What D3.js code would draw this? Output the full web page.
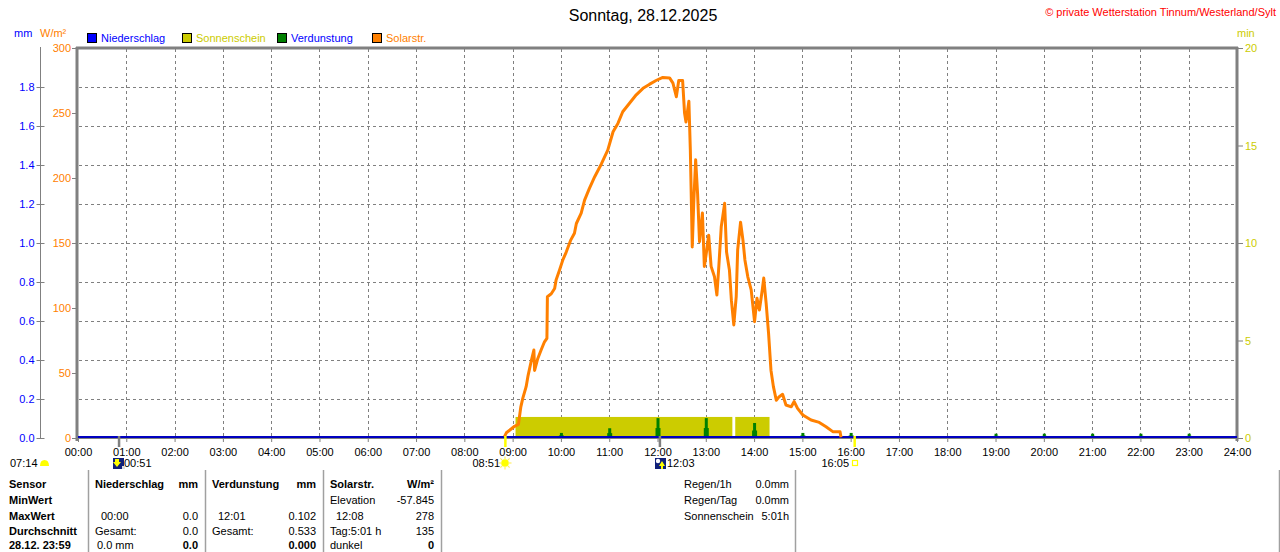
<!DOCTYPE html>
<html><head><meta charset="utf-8">
<script src="https://cdn.jsdelivr.net/npm/d3@7"></script>
<style>
html,body{margin:0;padding:0;background:#fff;overflow:hidden}
svg{display:block;font-family:"Liberation Sans",Arial,sans-serif}
</style></head>
<body>
<svg id="c" width="1280" height="552"></svg>
<script>
// ---------------- DATA ----------------
const title = "Sonntag, 28.12.2025";
const copyright = "\u00A9 private Wetterstation Tinnum/Westerland/Sylt";
const hourTicks = d3.range(0, 25);
const mmTicks = [0, 0.2, 0.4, 0.6, 0.8, 1.0, 1.2, 1.4, 1.6, 1.8];
const wTicks = [0, 50, 100, 150, 200, 250, 300];
const minTicks = [0, 5, 10, 15, 20];
const legendNames = ["Niederschlag", "Sonnenschein", "Verdunstung", "Solarstr."];

// Solarstrahlung (hours, W/m²)
const solarHours = [8.83, 8.87, 9.04, 9.12, 9.17, 9.21, 9.28, 9.32, 9.39, 9.44, 9.455, 9.52, 9.59, 9.66, 9.71,
  9.72, 9.80, 9.87, 9.90, 9.97, 10.04, 10.11, 10.20, 10.28, 10.32, 10.42, 10.49, 10.59, 10.70, 10.84,
  10.97, 11.08, 11.18, 11.28, 11.42, 11.56, 11.70, 11.83, 11.97, 12.11, 12.25, 12.32, 12.39, 12.44, 12.52,
  12.56, 12.59, 12.65, 12.68, 12.72, 12.75, 12.79, 12.83, 12.87, 12.93, 12.97, 13.02, 13.06, 13.11,
  13.18, 13.23, 13.27, 13.32, 13.35, 13.39, 13.43, 13.49, 13.53, 13.58, 13.63, 13.66, 13.72, 13.77,
  13.81, 13.87, 13.94, 14.01, 14.06, 14.11, 14.17, 14.20, 14.25, 14.30, 14.35, 14.40, 14.46, 14.52,
  14.59, 14.66, 14.77, 14.83, 14.90, 15.01, 15.18, 15.35, 15.49, 15.63, 15.78, 15.80];
const solarValues = [1, 4, 9, 10.5, 24, 30.5, 39.5, 48, 60, 67.7, 52, 61, 67.7, 74, 76.7,
  108.7, 111, 115, 121.5, 129, 137, 143, 152, 157.5, 165, 173, 183, 192, 201, 211,
  221.5, 235.6, 242, 251, 257.5, 264, 269, 272, 275, 277.4, 277, 273, 262.5, 275, 275,
  250, 243, 259, 221.5, 147, 180.5, 214, 188, 151, 173, 132, 144.6, 156, 132,
  124, 110, 132, 162.5, 170, 180.5, 143, 129, 106, 87, 108.7, 144.6, 166, 152,
  137, 124, 114, 89.5, 107.5, 98.5, 114, 123, 103.6, 80.5, 52, 39.5, 29, 31.8,
  33.6, 25.4, 24, 28, 22.8, 17.7, 13.8, 12, 8.7, 4.9, 4.9, 0.5];

// Sonnenschein intervals (start hour, end hour, min per min)
const sunStart = [9.06, 13.61];
const sunEnd = [13.55, 14.32];
const sunValue = [1.08, 1.08];

// Verdunstung (hours, mm)
const evapHours = [10, 11, 12, 13, 14, 15, 16, 19, 20, 21, 22, 23];
const evapValues = [0.026, 0.05, 0.102, 0.102, 0.077, 0.026, 0.026, 0.022, 0.022, 0.022, 0.022, 0.022];

// Niederschlag (hours, mm)
const rainHours = [0, 24];
const rainValues = [0, 0];

// astro events
const sunrise = 8.85, sunset = 16.083, moonset = 0.85, moonrise = 12.05;
const astroLabels = ["07:14", "00:51", "08:51", "12:03", "16:05"];

// table
const tableCol1 = ["Sensor", "MinWert", "MaxWert", "Durchschnitt", "28.12. 23:59"];
const rainCol = [["Niederschlag", "mm"], ["", ""], ["00:00", "0.0"], ["Gesamt:", "0.0"], ["0.0 mm", "0.0"]];
const evapCol = [["Verdunstung", "mm"], ["", ""], ["12:01", "0.102"], ["Gesamt:", "0.533"], ["", "0.000"]];
const solarCol = [["Solarstr.", "W/m\u00B2"], ["Elevation", "-57.845"], ["12:08", "278"], ["Tag:5:01 h", "135"], ["dunkel", "0"]];
const summaryCol = [["Regen/1h", "0.0mm"], ["Regen/Tag", "0.0mm"], ["Sonnenschein", "5:01h"]];

// ---------------- COLOURS ----------------
const C = { blue: "#0000ff", olive: "#cccc00", green: "#008000", orange: "#ff8000", gray: "#808080", yellow: "#ffff00", red: "#ff0000", navy: "#10207a" };

// ---------------- SCALES ----------------
const svg = d3.select("#c");
const x = d3.scaleLinear().domain([0, 24]).range([78, 1237]);
const yW = d3.scaleLinear().domain([0, 300]).range([438, 48]);
const yMM = d3.scaleLinear().domain([0, 2]).range([438, 48]);
const yMin = d3.scaleLinear().domain([0, 20]).range([438, 48]);
const FONT = "11px";

// title & copyright
svg.append("text").attr("x", 643).attr("y", 15).attr("dy", "0.35em").attr("text-anchor", "middle")
  .style("font-size", "16px").attr("fill", "#000").text(title);
svg.append("text").attr("x", 1276).attr("y", 12).attr("dy", "0.35em").attr("text-anchor", "end")
  .style("font-size", "11px").attr("fill", C.red).text(copyright);

// unit labels
svg.append("text").attr("x", 14).attr("y", 33).attr("dy", "0.35em").style("font-size", FONT).attr("fill", C.blue).text("mm");
svg.append("text").attr("x", 40).attr("y", 33).attr("dy", "0.35em").style("font-size", FONT).attr("fill", C.orange).text("W/m\u00B2");
svg.append("text").attr("x", 1237).attr("y", 33).attr("dy", "0.35em").style("font-size", FONT).attr("fill", C.olive).text("min");

// legend
const legColors = [C.blue, C.olive, C.green, C.orange];
const legTextColors = [C.blue, C.olive, C.blue, C.orange];
const legX = [87, 182, 277, 372];
legendNames.forEach((n, i) => {
  svg.append("rect").attr("x", legX[i] + 0.5).attr("y", 33.5).attr("width", 9).attr("height", 9)
    .attr("fill", legColors[i]).attr("stroke", "#000").attr("stroke-width", 1);
  svg.append("text").attr("x", legX[i] + 14).attr("y", 38).attr("dy", "0.35em").style("font-size", FONT)
    .attr("fill", legTextColors[i]).text(n);
});

// grid
const grid = svg.append("g");
grid.selectAll("line.v").data(hourTicks.filter(h => h > 0 && h < 24)).join("line")
  .attr("x1", d => Math.round(x(d)) + 0.5).attr("x2", d => Math.round(x(d)) + 0.5)
  .attr("y1", 49).attr("y2", 437).attr("stroke", C.gray).attr("stroke-dasharray", "3,3");
grid.selectAll("line.h").data(mmTicks.filter(v => v > 0)).join("line")
  .attr("x1", 79).attr("x2", 1236).attr("y1", d => Math.round(yMM(d)) + 0.5).attr("y2", d => Math.round(yMM(d)) + 0.5)
  .attr("stroke", C.gray).attr("stroke-dasharray", "3,3");

// sunshine bars
svg.append("g").selectAll("rect").data(sunStart).join("rect")
  .attr("x", (d, i) => x(d)).attr("width", (d, i) => x(sunEnd[i]) - x(d))
  .attr("y", (d, i) => yMin(sunValue[i])).attr("height", (d, i) => yMin(0) - yMin(sunValue[i]))
  .attr("fill", C.olive);

// evaporation spikes
const eg = svg.append("g");
evapHours.forEach((h, i) => {
  const cx = x(h), v = evapValues[i];
  eg.append("rect").attr("x", cx - 1).attr("width", 3).attr("y", yMM(v)).attr("height", yMM(0) - yMM(v)).attr("fill", C.green);
  eg.append("rect").attr("x", cx - 2).attr("width", 5).attr("y", yMM(v / 2)).attr("height", yMM(0) - yMM(v / 2)).attr("fill", C.green);
});

// axes
function styleAxis(g, col) {
  g.attr("font-family", null).attr("font-size", null);
  g.selectAll("text").style("font-size", FONT).attr("fill", col);
  g.selectAll(".tick line").attr("stroke", C.gray);
}
// mm axis
svg.append("line").attr("x1", 40.5).attr("x2", 40.5).attr("y1", 47).attr("y2", 439).attr("stroke", C.gray);
const gmm = svg.append("g").attr("transform", "translate(44.5,0)")
  .call(d3.axisLeft(yMM).tickValues(mmTicks).tickFormat(d3.format(".1f")).tickSize(8).tickPadding(2));
gmm.select(".domain").remove(); styleAxis(gmm, C.blue);
// W/m² axis
const gw = svg.append("g").attr("transform", "translate(77,0)")
  .call(d3.axisLeft(yW).tickValues(wTicks).tickSize(5).tickPadding(1));
gw.select(".domain").remove(); styleAxis(gw, C.orange);
// min axis
const gm = svg.append("g").attr("transform", "translate(1237,0)")
  .call(d3.axisRight(yMin).tickValues(minTicks).tickSize(6).tickPadding(2));
gm.select(".domain").remove(); styleAxis(gm, C.olive);
// x axis
const gx = svg.append("g").attr("transform", "translate(0,438)")
  .call(d3.axisBottom(x).tickValues(hourTicks).tickFormat(d => String(d).padStart(2, "0") + ":00").tickSize(4).tickPadding(6));
gx.select(".domain").remove(); styleAxis(gx, "#000");

// frame
svg.append("line").attr("x1", 77).attr("x2", 77).attr("y1", 47).attr("y2", 441).attr("stroke", C.gray).attr("stroke-width", 3);
svg.append("line").attr("x1", 1237).attr("x2", 1237).attr("y1", 47).attr("y2", 441).attr("stroke", C.gray).attr("stroke-width", 3);
svg.append("line").attr("x1", 76).attr("x2", 1238).attr("y1", 48).attr("y2", 48).attr("stroke", C.gray).attr("stroke-width", 3);
svg.append("line").attr("x1", 78).attr("x2", 1236).attr("y1", 438.5).attr("y2", 438.5).attr("stroke", C.gray).attr("stroke-width", 1);

// rain line
svg.append("path").datum(rainHours.map((h, i) => [h, rainValues[i]]))
  .attr("d", d3.line().x(d => x(d[0])).y(d => yMM(d[1]) - 1))
  .attr("stroke", "#0000c0").attr("stroke-width", 2).attr("fill", "none");

// solar line
svg.append("path").datum(solarHours.map((h, i) => [h, solarValues[i]]))
  .attr("d", d3.line().x(d => x(d[0])).y(d => yW(d[1])))
  .attr("stroke", C.orange).attr("stroke-width", 3).attr("fill", "none").attr("stroke-linejoin", "round");

// astro ticks
[[moonset, C.gray], [moonrise, C.gray], [sunrise, C.yellow], [sunset, C.yellow]].forEach(([h, col]) => {
  svg.append("line").attr("x1", x(h)).attr("x2", x(h)).attr("y1", 436).attr("y2", 447).attr("stroke", col).attr("stroke-width", 2.5);
});

// astro labels & icons
const ly = 463;
svg.append("text").attr("x", 10).attr("y", ly).attr("dy", "0.35em").style("font-size", FONT).text(astroLabels[0]);
svg.append("path").attr("d", "M40,466 Q40,460 44.5,460 Q49,460 49,466 Z").attr("fill", C.yellow);
function moonIcon(x0, up) {
  svg.append("rect").attr("x", x0).attr("y", 458).attr("width", 11).attr("height", 11).attr("fill", C.navy);
  if (up) {
    svg.append("circle").attr("cx", x0 + 3).attr("cy", 461).attr("r", 2.2).attr("fill", "#fff");
    svg.append("path").attr("d", `M${x0 + 7},461 L${x0 + 10},466 L${x0 + 8},466 L${x0 + 8},469 L${x0 + 6},469 L${x0 + 6},466 L${x0 + 4},466 Z`).attr("fill", C.yellow);
  } else {
    svg.append("path").attr("d", `M${x0 + 2},459 L${x0 + 6},459 L${x0 + 6},462 L${x0 + 8},462 L${x0 + 4},467 L${x0},462 L${x0 + 2},462 Z`).attr("fill", C.yellow);
    svg.append("rect").attr("x", x0 + 9).attr("y", 466).attr("width", 3).attr("height", 3).attr("fill", "#ddd");
  }
}
moonIcon(113, false);
svg.append("text").attr("x", 124).attr("y", ly).attr("dy", "0.35em").style("font-size", FONT).text(astroLabels[1]);
svg.append("text").attr("x", 500).attr("y", ly).attr("dy", "0.35em").attr("text-anchor", "end").style("font-size", FONT).text(astroLabels[2]);
const sg = svg.append("g").attr("transform", "translate(505,463)");
sg.append("circle").attr("r", 3.8).attr("fill", C.yellow);
d3.range(8).forEach(k => {
  const a = k * Math.PI / 4;
  sg.append("line").attr("x1", Math.cos(a) * 4).attr("y1", Math.sin(a) * 4).attr("x2", Math.cos(a) * 6.5).attr("y2", Math.sin(a) * 6.5)
    .attr("stroke", "#ffee66").attr("stroke-width", 1.2);
});
moonIcon(655, true);
svg.append("text").attr("x", 667).attr("y", ly).attr("dy", "0.35em").style("font-size", FONT).text(astroLabels[3]);
svg.append("text").attr("x", 849).attr("y", ly).attr("dy", "0.35em").attr("text-anchor", "end").style("font-size", FONT).text(astroLabels[4]);
svg.append("rect").attr("x", 852.5).attr("y", 460.5).attr("width", 5).attr("height", 5).attr("fill", "none").attr("stroke", C.yellow).attr("stroke-width", 1.2);

// table
const rowsY = [484.5, 500.5, 516.5, 531.5, 545.5];
[88, 205, 323, 441, 795, 1279].forEach(vx => {
  svg.append("line").attr("x1", vx + 0.5).attr("x2", vx + 0.5).attr("y1", 470).attr("y2", 552).attr("stroke", "#a0a0a0").attr("stroke-width", 1.5);
});
function txt(tx, ty, s, opt = {}) {
  svg.append("text").attr("x", tx).attr("y", ty).attr("dy", "0.35em").style("font-size", FONT)
    .attr("text-anchor", opt.end ? "end" : "start").style("font-weight", opt.bold ? "bold" : "normal").attr("fill", "#000").text(s);
}
tableCol1.forEach((s, i) => txt(9, rowsY[i], s, { bold: true }));
function column(data, xl, xr, indentRows) {
  data.forEach((r, i) => {
    const bold = i === 0;
    let lx = xl;
    if (indentRows && indentRows[i]) lx += indentRows[i];
    if (r[0]) txt(lx, rowsY[i], r[0], { bold });
    if (r[1]) txt(xr, rowsY[i], r[1], { bold: bold || i === 4, end: true });
  });
}
column(rainCol, 95, 198, [0, 0, 6, 0, 2]);
column(evapCol, 212, 316, [0, 0, 6, 0, 0]);
column(solarCol, 330, 434, [0, 0, 6, 0, 0]);
summaryCol.forEach((r, i) => { txt(684, rowsY[i], r[0]); txt(789, rowsY[i], r[1], { end: true }); });
</script>
</body></html>
